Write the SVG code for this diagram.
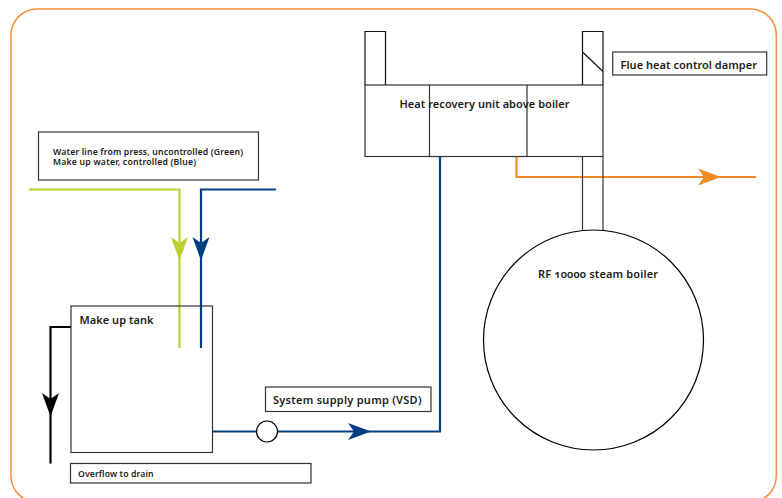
<svg xmlns="http://www.w3.org/2000/svg" width="782" height="498" viewBox="0 0 782 498">
<style>
text{font-family:"Noto Sans","Open Sans","Liberation Sans",sans-serif;font-weight:600;fill:#1c1c1c}
.f{font-size:11px}
.s{font-size:8.7px}
.b{fill:#fff;stroke:#333;stroke-width:1.2}
.l{fill:none;stroke-width:2.2}
.o{font-variant-numeric:oldstyle-nums}
</style>
<rect id="frame" x="11" y="9" width="765.300" height="493" rx="26" fill="#fff" stroke="#f2923a" stroke-width="1.500"/>
<g id="connectors">
<path class="l" d="M29 189.500H179.500V348" stroke="#bdd031"/>
<path d="M171 237L179.500 260.500L188 237L179.500 243Z" fill="#bdd031"/>
<path class="l" d="M276 189.500H201V348" stroke="#003f84"/>
<path d="M192.500 237L201 260.500L209.500 237L201 243Z" fill="#003f84"/>
<path class="l" d="M71 327H50.500V463.500" stroke="#000"/>
<path d="M42 393L50.500 416.500L59 393L50.500 399Z" fill="#000"/>
<path class="l" d="M212.500 431.500H440V156.500" stroke="#003f84"/>
<path d="M348 423L371 431.500L348 440L354 431.500Z" fill="#003f84"/>
<path class="l" d="M516.500 156.500V177H756" stroke="#f08a24"/>
<path d="M698 168.500L721 177L698 185.500L704 177Z" fill="#f08a24"/>
</g>
<g id="tank"><rect x="71" y="306" width="141.500" height="146.500" fill="none" stroke="#333" stroke-width="1.200"/><text class="f" x="79.500" y="324" textLength="74">Make up tank</text></g>
<g id="legend"><rect class="b" x="38.500" y="132" width="220" height="48"/><text class="s"><tspan x="53" y="155" textLength="190">Water line from press, uncontrolled (Green)</tspan><tspan x="53" y="165" textLength="143">Make up water, controlled (Blue)</tspan></text></g>
<g id="pump"><circle cx="267" cy="431.500" r="10.500" fill="#fff" stroke="#000" stroke-width="1.200"/></g>
<g id="pump-label"><rect class="b" x="265.500" y="387" width="165.500" height="24.500"/><text class="f" x="273" y="404" textLength="148.500">System supply pump (VSD)</text></g>
<g id="overflow"><rect class="b" x="70.500" y="463.500" width="240.500" height="19.500"/><text class="s" x="78" y="477" textLength="75.500">Overflow to drain</text></g>
<g id="boiler"><path d="M582.500 156.500V230M603 156.500V230" fill="none" stroke="#333" stroke-width="1.200"/><circle cx="593.500" cy="340" r="110" fill="#fff" stroke="#000" stroke-width="1.200"/><text class="f o" x="538" y="278" textLength="120">RF 10000 steam boiler</text></g>
<g id="heat-unit">
<path d="M365 85V31.500H385.500V85M582.500 85V31.500H603V85M582.500 52L603 71.500" fill="none" stroke="#111" stroke-width="1.200"/>
<rect x="365" y="85" width="238" height="71.500" fill="none" stroke="#333" stroke-width="1.200"/>
<path d="M429.500 85V156.500M527 85V156.500" stroke="#333" stroke-width="1.200"/>
<text class="f" x="399.500" y="108" textLength="170">Heat recovery unit above boiler</text>
</g>
<g id="damper-label"><rect class="b" x="612.700" y="52" width="154" height="23"/><text class="f" x="620.500" y="69" textLength="136.500">Flue heat control damper</text></g>
</svg>
